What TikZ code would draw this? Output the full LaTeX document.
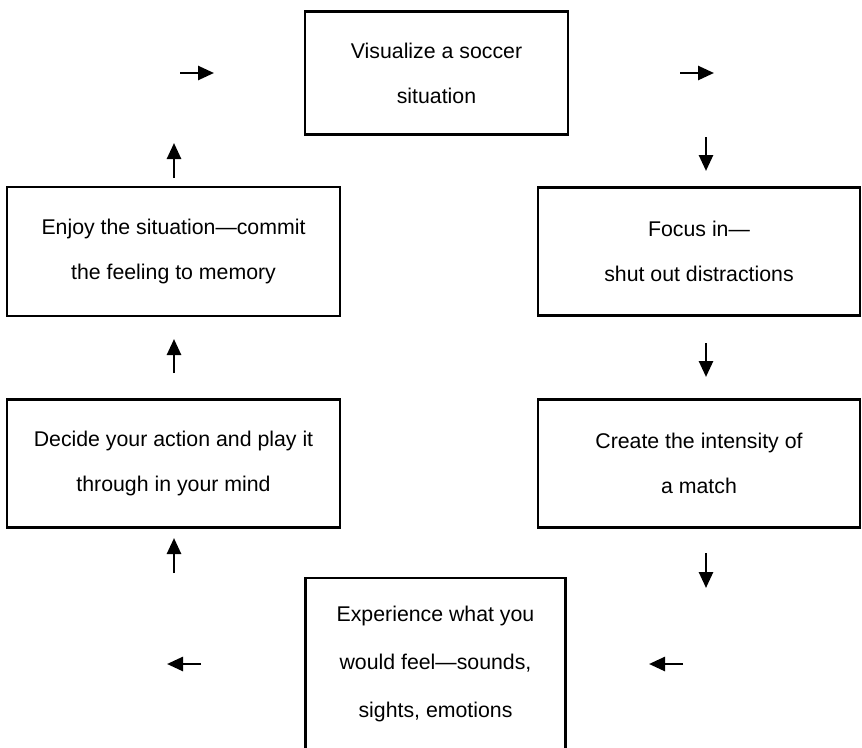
\documentclass[tikz,border=0pt]{standalone}
\usepackage{fontspec}
\setmainfont{Liberation Sans}
\usetikzlibrary{arrows.meta}

\begin{document}
\begin{tikzpicture}[x=1pt,y=-1pt,
  stepbox/.style={draw=black, line width=2.7pt, fill=white, inner sep=0pt,
    align=center, font=\fontsize{21.3}{45}\selectfont},
  flow/.style={line width=2.6pt, -{Triangle[length=16pt,width=14pt]}}]
\clip (0,0) rectangle (862,747);

% boxes of the cycle
\node[stepbox, minimum width=263pt, minimum height=123pt] (vis) at (436.5,73)
  {Visualize a soccer\\situation};
\node[stepbox, minimum width=322pt, minimum height=128pt] (foc) at (699,251.5)
  {Focus in---\\shut out distractions};
\node[stepbox, minimum width=322pt, minimum height=128pt] (cre) at (699,463.5)
  {Create the intensity of\\a match};
\node[stepbox, minimum width=260pt, minimum height=172pt,
  font=\fontsize{21.3}{48}\selectfont] (exp) at (435.5,664)
  {Experience what you\\would feel---sounds,\\sights, emotions};
\node[stepbox, minimum width=333pt, minimum height=128pt] (dec) at (173.5,463.5)
  {Decide your action and play it\\through in your mind};
\node[stepbox, minimum width=333pt, minimum height=129pt] (enj) at (173.5,251.5)
  {Enjoy the situation---commit\\the feeling to memory};

% end points of the free-standing arrows
\coordinate (r1a) at (180,73);  \coordinate (r1b) at (214,73);
\coordinate (r2a) at (680,73);  \coordinate (r2b) at (714,73);
\coordinate (d1a) at (706,137); \coordinate (d1b) at (706,171);
\coordinate (d2a) at (706,343); \coordinate (d2b) at (706,377);
\coordinate (d3a) at (706,553); \coordinate (d3b) at (706,588);
\coordinate (l1a) at (683,664); \coordinate (l1b) at (649,664);
\coordinate (l2a) at (201,664); \coordinate (l2b) at (167,664);
\coordinate (u1a) at (174,573); \coordinate (u1b) at (174,538);
\coordinate (u2a) at (174,373); \coordinate (u2b) at (174,339);
\coordinate (u3a) at (174,178); \coordinate (u3b) at (174,143);

\draw[flow] (r1a) -- (r1b);
\draw[flow] (r2a) -- (r2b);
\draw[flow] (d1a) -- (d1b);
\draw[flow] (d2a) -- (d2b);
\draw[flow] (d3a) -- (d3b);
\draw[flow] (l1a) -- (l1b);
\draw[flow] (l2a) -- (l2b);
\draw[flow] (u1a) -- (u1b);
\draw[flow] (u2a) -- (u2b);
\draw[flow] (u3a) -- (u3b);
\end{tikzpicture}
\end{document}
